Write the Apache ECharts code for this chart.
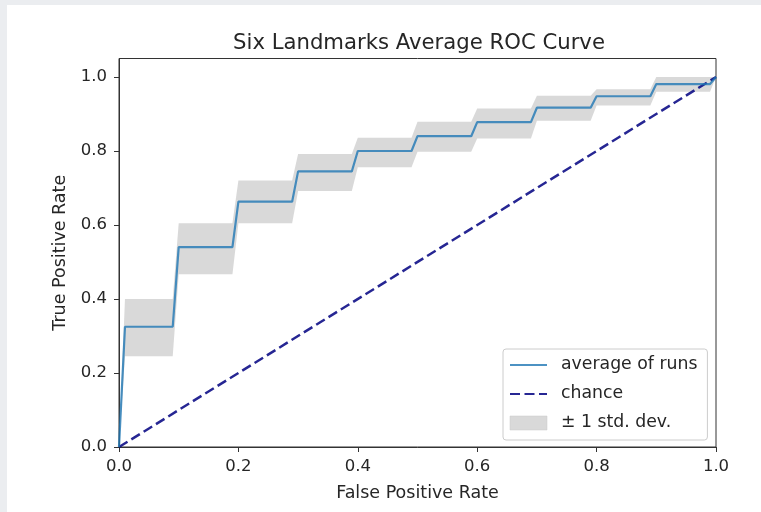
<!DOCTYPE html>
<html>
<head>
<meta charset="utf-8">
<script src="https://cdn.jsdelivr.net/npm/echarts@6/dist/echarts.min.js"></script>
<style>
  html, body { margin: 0; padding: 0; background: #ebedf0; }
  #chart { position: absolute; left: 7px; top: 5px; width: 754px; height: 507px; background: #ffffff; }
</style>
</head>
<body>
<div id="chart"></div>
<script>
// ---- data ----
var fpr      = [0, 0.01, 0.09, 0.10, 0.19, 0.20, 0.29, 0.30, 0.39, 0.40, 0.49, 0.50, 0.59, 0.60, 0.69, 0.70, 0.79, 0.80, 0.89, 0.90, 0.99, 1.0];
var meanTpr  = [0, 0.325, 0.325, 0.54, 0.54, 0.663, 0.663, 0.745, 0.745, 0.80, 0.80, 0.84, 0.84, 0.878, 0.878, 0.917, 0.917, 0.948, 0.948, 0.981, 0.981, 1.0];
var tprUpper = [0, 0.40, 0.40, 0.605, 0.605, 0.72, 0.72, 0.792, 0.792, 0.836, 0.836, 0.879, 0.879, 0.915, 0.915, 0.949, 0.949, 0.967, 0.967, 1.0, 1.0, 1.0];
var tprLower = [0, 0.245, 0.245, 0.467, 0.467, 0.605, 0.605, 0.692, 0.692, 0.756, 0.756, 0.798, 0.798, 0.834, 0.834, 0.882, 0.882, 0.923, 0.923, 0.96, 0.96, 1.0];
var chanceX  = [0, 1];
var chanceY  = [0, 1];
var tickValues = [0, 0.2, 0.4, 0.6, 0.8, 1.0];

var FONT = 'DejaVu Sans';
var TXT = '#262626';

var chart = echarts.init(document.getElementById('chart'), null, { renderer: 'canvas' });

var meanData = fpr.map(function (x, i) { return [x, meanTpr[i]]; });
var chanceData = chanceX.map(function (x, i) { return [x, chanceY[i]]; });
var bandData = fpr.map(function (x, i) { return [x, tprLower[i], tprUpper[i]]; });

function axisCommon() {
  return {
    type: 'value',
    min: 0,
    axisLine: { show: true, onZero: false, lineStyle: { color: '#333333', width: 1 } },
    axisTick: { show: true, inside: false, length: 5, customValues: tickValues, lineStyle: { color: '#333333', width: 1 } },
    axisLabel: { customValues: tickValues, color: TXT, fontFamily: FONT, fontSize: 16.5,
                 formatter: function (v) { return v.toFixed(1); } },
    splitLine: { show: false },
    nameLocation: 'middle',
    nameTextStyle: { color: TXT, fontFamily: FONT, fontSize: 17.5 }
  };
}

var xAxis = axisCommon();
xAxis.max = 1.0;
xAxis.name = 'False Positive Rate';
xAxis.nameGap = 37;
xAxis.axisLabel.margin = 11;

var yAxis = axisCommon();
yAxis.max = 1.05;
yAxis.name = 'True Positive Rate';
yAxis.nameGap = 49;
yAxis.axisLabel.margin = 12;

var option = {
  animation: false,
  backgroundColor: '#ffffff',
  title: {
    text: 'Six Landmarks Average ROC Curve',
    left: 407, top: 23, textAlign: 'center',
    textStyle: { color: TXT, fontFamily: FONT, fontSize: 21.2, fontWeight: 'normal' }
  },
  grid: { left: 112, right: 45, top: 53.5, bottom: 65, show: true, borderColor: '#333333', borderWidth: 1, backgroundColor: 'transparent', containLabel: false },
  xAxis: xAxis,
  yAxis: yAxis,
  legend: {
    orient: 'vertical',
    left: 496, top: 344,
    padding: [6, 10, 7, 6],
    itemWidth: 37, itemHeight: 14, itemGap: 9,
    backgroundColor: 'rgba(255,255,255,0.8)',
    borderColor: '#cccccc', borderWidth: 1, borderRadius: 3,
    textStyle: { color: TXT, fontFamily: FONT, fontSize: 17.3, lineHeight: 20, padding: [0, 0, 0, 9] },
    data: [
      { name: 'average of runs', itemStyle: { color: 'rgba(0,0,0,0)', borderWidth: 0, opacity: 0 } },
      { name: 'chance', itemStyle: { color: 'rgba(0,0,0,0)', borderWidth: 0, opacity: 0 } },
      { name: '\u00b1 1 std. dev.', icon: 'rect', itemStyle: { color: '#d9d9d9', borderColor: '#c8c8c8', borderWidth: 0.5 } }
    ]
  },
  series: [
    {
      name: '\u00b1 1 std. dev.',
      type: 'custom',
      z: 1,
      silent: true,
      itemStyle: { color: '#d9d9d9' },
      data: [bandData[0]],
      renderItem: function (params, api) {
        var pts = [];
        for (var i = 0; i < bandData.length; i++) pts.push(api.coord([bandData[i][0], bandData[i][2]]));
        for (var j = bandData.length - 1; j >= 0; j--) pts.push(api.coord([bandData[j][0], bandData[j][1]]));
        return {
          type: 'polygon',
          shape: { points: pts },
          style: { fill: '#808080', opacity: 0.3, stroke: 'none' }
        };
      }
    },
    {
      name: 'chance',
      type: 'line',
      z: 3,
      data: chanceData,
      symbol: 'none',
      lineStyle: { color: '#000080', width: 2.5, type: [10, 4.5], opacity: 0.85 },
      itemStyle: { color: '#000080' }
    },
    {
      name: 'average of runs',
      type: 'line',
      z: 4,
      data: meanData,
      symbol: 'none',
      lineStyle: { color: '#1f77b4', width: 2.2, opacity: 0.8 },
      itemStyle: { color: '#1f77b4' }
    }
  ]
};

chart.setOption(option);
</script>
</body>
</html>
